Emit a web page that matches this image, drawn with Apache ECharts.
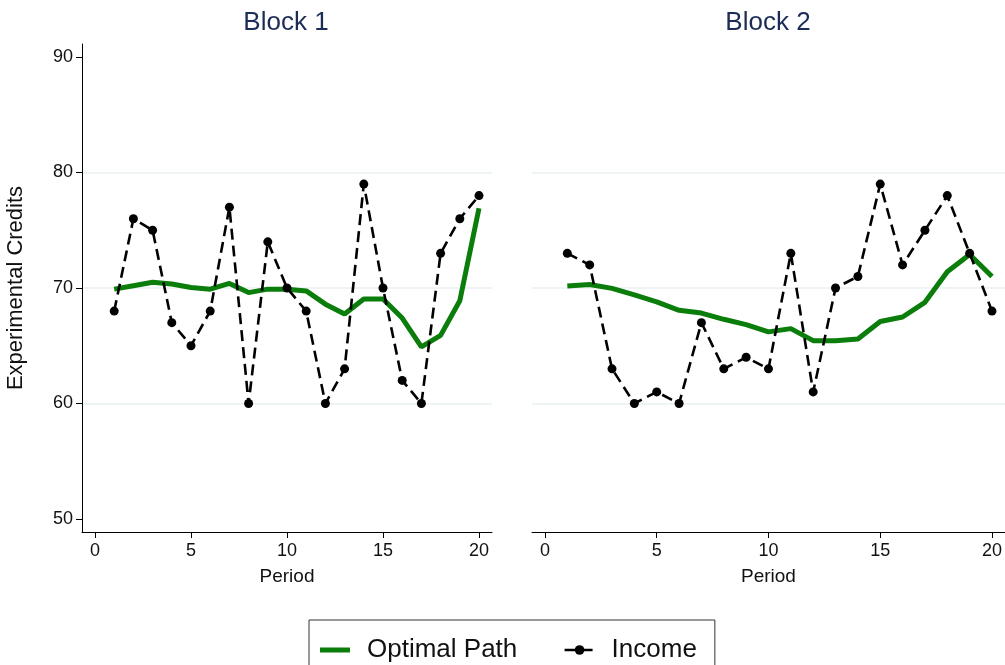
<!DOCTYPE html>
<html>
<head>
<meta charset="utf-8">
<script src="https://cdn.jsdelivr.net/npm/echarts@6/dist/echarts.min.js"></script>
<style>
  html, body { margin: 0; padding: 0; background: #ffffff; }
  #chart { width: 1005px; height: 665px; }
</style>
</head>
<body>
<div id="chart"></div>
<script>
// Periods of each block
const periods = [1,2,3,4,5,6,7,8,9,10,11,12,13,14,15,16,17,18,19,20];

// Block 1
const block1Optimal = [69.9,70.2,70.5,70.35,70.05,69.9,70.4,69.6,69.9,69.9,69.75,68.6,67.75,69.05,69.05,67.4,64.9,65.9,68.9,76.9];
const block1Income  = [68,76,75,67,65,68,77,60,74,70,68,60,63,79,70,62,60,73,76,78];

// Block 2
const block2Optimal = [70.17,70.3,69.97,69.4,68.8,68.07,67.83,67.29,66.83,66.2,66.48,65.44,65.44,65.58,67.1,67.49,68.76,71.4,72.9,71.0];
const block2Income  = [73,72,63,60,61,60,67,63,64,63,73,61,70,71,79,72,75,78,73,68];

// Tick labels
const xTicks = [0,5,10,15,20];
const yTicks = [50,60,70,80,90];

const panelTitles = ['Block 1', 'Block 2'];
const seriesNames = ['Optimal Path', 'Income'];

const FONT = "'Liberation Sans', Arial, Helvetica, sans-serif";
const GREEN = '#0a7d0a';
const GRID_COLOR = '#e8eff2';

const pairs = (vals) => periods.map((p, i) => [p, vals[i]]);

function xAxisFor(idx, min, max) {
  return {
    type: 'value', gridIndex: idx, min: min, max: max,
    name: 'Period', nameLocation: 'middle', nameGap: 35,
    nameTextStyle: { fontFamily: FONT, fontSize: 19, color: '#111' },
    axisLine: { show: true, onZero: false, lineStyle: { color: '#000', width: 1 } },
    axisTick: { show: true, length: 6, customValues: xTicks, lineStyle: { color: '#000' } },
    axisLabel: { customValues: xTicks, margin: 10, fontFamily: FONT, fontSize: 18, color: '#111' },
    splitLine: { show: false }
  };
}

function yAxisFor(idx, showAxis) {
  return {
    type: 'value', gridIndex: idx, min: 48.87, max: 91.13,
    name: showAxis ? 'Experimental Credits' : '', nameLocation: 'middle', nameGap: 55,
    nameTextStyle: { fontFamily: FONT, fontSize: 22, color: '#111' },
    axisLine: { show: showAxis, onZero: false, lineStyle: { color: '#000', width: 1 } },
    axisTick: { show: showAxis, length: 6, customValues: yTicks, lineStyle: { color: '#000' } },
    axisLabel: { show: showAxis, customValues: yTicks, margin: 9, fontFamily: FONT, fontSize: 18, color: '#111' },
    // light horizontal rules at 50, 60, ... 90 (the clipped ends are left out)
    splitLine: {
      show: true, showMinLine: false, showMaxLine: false,
      lineStyle: { color: GRID_COLOR, width: 1.5 }
    }
  };
}

function panelSeries(idx, optimal, income) {
  return [
    {
      name: seriesNames[0], type: 'line', xAxisIndex: idx, yAxisIndex: idx,
      data: pairs(optimal), symbol: 'none', z: 3,
      lineStyle: { color: GREEN, width: 5 }, itemStyle: { color: GREEN }
    },
    {
      name: seriesNames[1], type: 'line', xAxisIndex: idx, yAxisIndex: idx,
      data: pairs(income), symbol: 'circle', symbolSize: 9, z: 4,
      lineStyle: { color: '#000', width: 2.6, type: [11, 6] },
      itemStyle: { color: '#000' }
    }
  ];
}

const chart = echarts.init(document.getElementById('chart'), null, { renderer: 'canvas' });

chart.setOption({
  backgroundColor: '#ffffff',
  animation: false,
  title: [
    { text: panelTitles[0], left: 286, top: 10, textAlign: 'center', padding: 0,
      textStyle: { fontFamily: FONT, fontSize: 26, fontWeight: 'normal', color: '#1c2c56' } },
    { text: panelTitles[1], left: 768, top: 10, textAlign: 'center', padding: 0,
      textStyle: { fontFamily: FONT, fontSize: 26, fontWeight: 'normal', color: '#1c2c56' } }
  ],
  grid: [
    { left: 82, top: 44, width: 410, height: 488 },
    { left: 532, top: 44, width: 474, height: 488 }
  ],
  xAxis: [xAxisFor(0, -0.677, 20.677), xAxisFor(1, -0.58, 20.58)],
  yAxis: [yAxisFor(0, true), yAxisFor(1, false)],
  legend: {
    data: [
      { name: seriesNames[0], icon: 'path://M0,0 L30,0 L30,5 L0,5 Z' },
      { name: seriesNames[1] }
    ],
    left: 309, top: 620,
    orient: 'horizontal',
    itemWidth: 30, itemHeight: 12, itemGap: 46,
    padding: [17, 18, 20, 11],
    borderColor: '#333', borderWidth: 1,
    lineStyle: { width: 'inherit' },
    textStyle: { fontFamily: FONT, fontSize: 26, color: '#111', padding: [0, 0, 0, 12] }
  },
  series: [].concat(
    panelSeries(0, block1Optimal, block1Income),
    panelSeries(1, block2Optimal, block2Income)
  )
});
</script>
</body>
</html>
